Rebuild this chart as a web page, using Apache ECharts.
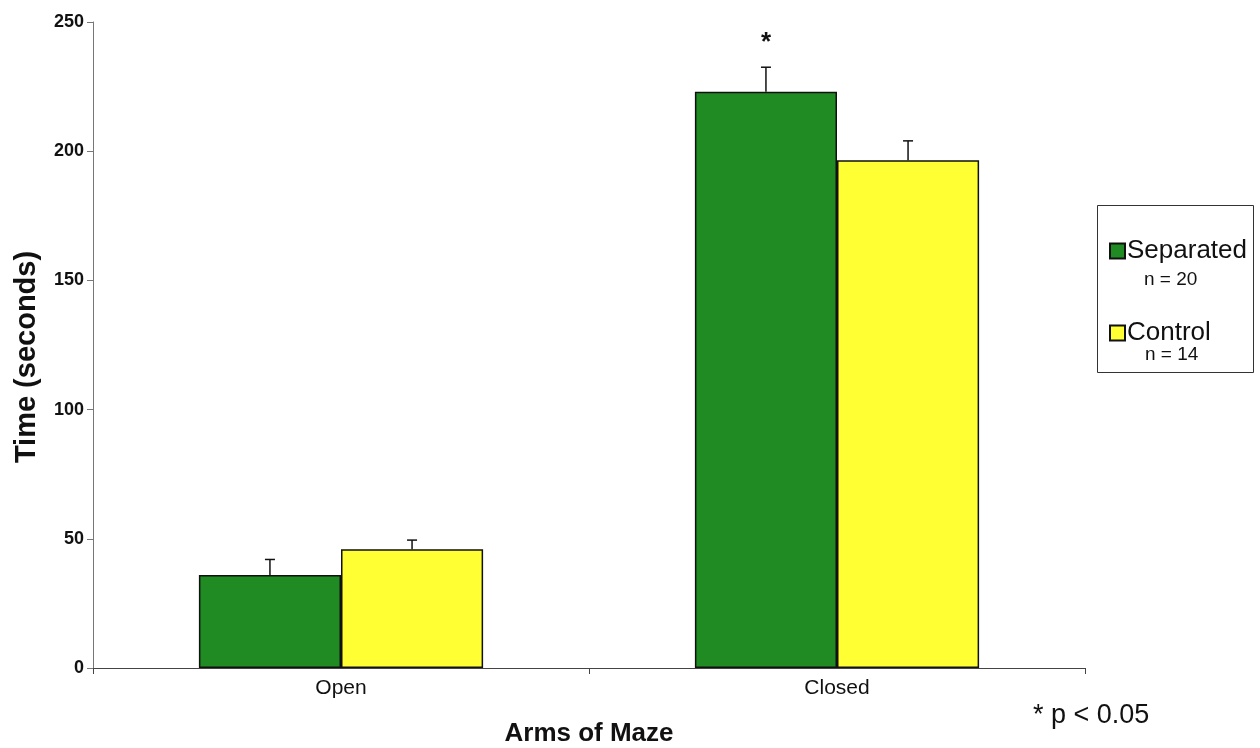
<!DOCTYPE html>
<html>
<head>
<meta charset="utf-8">
<script src="https://cdn.jsdelivr.net/npm/echarts@6/dist/echarts.min.js"></script>
<style>html,body{margin:0;padding:0;background:#fff}#c{width:1260px;height:748px}</style>
</head>
<body>
<div id="c"></div>
<script>
const categories = ['Open', 'Closed'];
const separatedMean = [36, 223];
const separatedErr = [6, 9.5];
const controlMean = [46, 196.5];
const controlErr = [3.5, 7.5];
const separatedSig = ['', '*'];
const controlSig = ['', ''];
const seriesNames = ['Separated', 'Control'];
const sampleSizes = ['n = 20', 'n = 14'];
const yTicks = [0, 50, 100, 150, 200, 250];

const GREEN = '#1f8b22';
const YELLOW = '#ffff33';
const CAT_GAP = 0.427;
const FONT = '"Liberation Sans", Arial, sans-serif';

function errorSeries(means, errs, sigs, side) {
  return {
    type: 'custom',
    silent: true,
    z: 5,
    data: means.map((m, i) => [i, m, errs[i]]),
    renderItem: function (params, api) {
      const idx = api.value(0);
      const m = api.value(1);
      const e = api.value(2);
      const sig = sigs[idx];
      const catW = api.size([1, 0])[0];
      const barW = catW * (1 - CAT_GAP) / 2;
      const base = api.coord([idx, m]);
      const top = api.coord([idx, m + e]);
      const x = base[0] + side * barW / 2;
      const cap = 5;
      const children = [
        { type: 'line', shape: { x1: x, y1: base[1], x2: x, y2: top[1] }, style: { stroke: '#111', lineWidth: 1.5 } },
        { type: 'line', shape: { x1: x - cap, y1: top[1], x2: x + cap, y2: top[1] }, style: { stroke: '#111', lineWidth: 1.5 } }
      ];
      if (sig) {
        children.push({ type: 'text', x: x, y: top[1] - 24, style: { text: sig, fill: '#111', font: 'bold 26px ' + FONT, align: 'center', verticalAlign: 'middle' } });
      }
      return { type: 'group', children: children };
    }
  };
}

const chart = echarts.init(document.getElementById('c'), null, { renderer: 'canvas' });
chart.setOption({
  animation: false,
  backgroundColor: '#fff',
  grid: { left: 93, right: 175, top: 22, bottom: 80, containLabel: false, outerBoundsMode: 'none' },
  xAxis: {
    type: 'category',
    data: categories,
    name: 'Arms of Maze',
    nameLocation: 'middle',
    nameGap: 53,
    nameTextStyle: { fontFamily: FONT, fontWeight: 'bold', fontSize: 26, color: '#111' },
    axisLine: { lineStyle: { color: '#444', width: 1 } },
    axisTick: { show: true, length: 6, lineStyle: { color: '#444' } },
    axisLabel: { fontFamily: FONT, fontSize: 21, color: '#111', margin: 10 },
    splitLine: { show: false }
  },
  yAxis: {
    type: 'value',
    min: 0, max: 250, interval: 50,
    name: 'Time (seconds)',
    nameLocation: 'middle',
    nameGap: 52,
    nameTextStyle: { fontFamily: FONT, fontWeight: 'bold', fontSize: 29, color: '#111', padding: [0, 24, 0, 0] },
    axisLine: { show: true, lineStyle: { color: '#777', width: 1 } },
    axisTick: { show: true, length: 6, lineStyle: { color: '#777' } },
    axisLabel: { fontFamily: FONT, fontWeight: 'bold', fontSize: 18, color: '#111', margin: 9,
      formatter: v => yTicks.includes(v) ? String(v) : '' },
    splitLine: { show: false }
  },
  legend: {
    orient: 'vertical',
    left: 1104,
    top: 233,
    itemWidth: 15,
    itemHeight: 15,
    itemGap: 56,
    icon: 'rect',
    textStyle: { fontFamily: FONT, fontSize: 26, color: '#111', padding: [0, 0, 0, -3] },
    data: seriesNames
  },
  graphic: [
    { type: 'rect', shape: { x: 1097.5, y: 205.5, width: 156, height: 167 }, style: { fill: 'none', stroke: '#333', lineWidth: 1 }, z: 1 },
    { type: 'text', x: 1144, y: 280, style: { text: sampleSizes[0], font: '19px ' + FONT, fill: '#111', verticalAlign: 'middle' } },
    { type: 'text', x: 1145, y: 355, style: { text: sampleSizes[1], font: '19px ' + FONT, fill: '#111', verticalAlign: 'middle' } },
    { type: 'text', x: 1033, y: 716, style: { text: '* p < 0.05', font: '27px ' + FONT, fill: '#111', verticalAlign: 'middle' } }
  ],
  series: [
    { name: seriesNames[0], type: 'bar', data: separatedMean, barGap: '0%', barCategoryGap: (CAT_GAP * 100) + '%',
      itemStyle: { color: GREEN, borderColor: '#111', borderWidth: 1.5 } },
    { name: seriesNames[1], type: 'bar', data: controlMean, barGap: '0%', barCategoryGap: (CAT_GAP * 100) + '%',
      itemStyle: { color: YELLOW, borderColor: '#111', borderWidth: 1.5 } },
    errorSeries(separatedMean, separatedErr, separatedSig, -1),
    errorSeries(controlMean, controlErr, controlSig, 1)
  ]
});
</script>
</body>
</html>
